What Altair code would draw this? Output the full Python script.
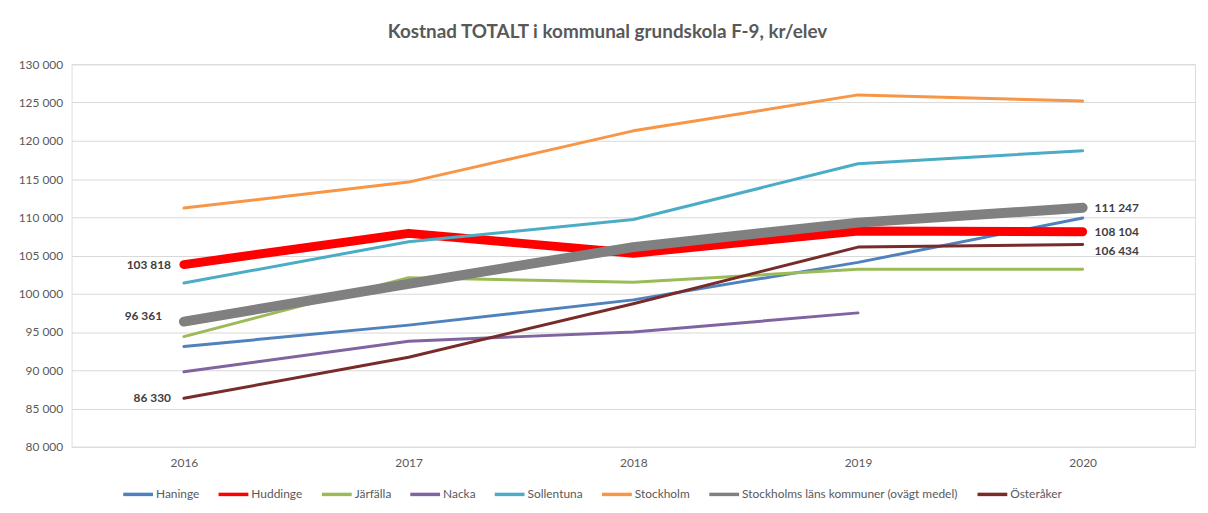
import altair as alt
import pandas as pd

years = ["2016", "2017", "2018", "2019", "2020"]
series = ["Haninge", "Huddinge", "Järfälla", "Nacka", "Sollentuna", "Stockholm",
          "Stockholms läns kommuner (ovägt medel)", "Österåker"]
colors = ["#4F81BD", "#FF0000", "#9BBB59", "#8064A2", "#4BACC6", "#F79646", "#808080", "#772C2A"]
widths = [3, 9, 3, 3, 3, 3, 10, 3]

haninge = [93100, 95900, 99200, 104100, 109900]
huddinge = [103818, 107900, 105300, 108200, 108104]
jarfalla = [94400, 102100, 101500, 103200, 103200]
nacka = [89800, 93800, 95000, 97500, None]
sollentuna = [101400, 106800, 109700, 117000, 118700]
stockholm = [111200, 114600, 121300, 126000, 125200]
lan = [96361, 101300, 106100, 109300, 111247]
osteraker = [86330, 91700, 98700, 106100, 106434]
values = [haninge, huddinge, jarfalla, nacka, sollentuna, stockholm, lan, osteraker]

# data labels: (series, year, group)
labels = [
    ("Huddinge", "2016", "left"), ("Stockholms läns kommuner (ovägt medel)", "2016", "left_up"),
    ("Österåker", "2016", "left"), ("Stockholms läns kommuner (ovägt medel)", "2020", "right"),
    ("Huddinge", "2020", "right"), ("Österåker", "2020", "right_down"),
]

rows = []
for i, (s, vals) in enumerate(zip(series, values)):
    for y, v in zip(years, vals):
        if v is not None:
            rows.append({"Series": s, "Year": y, "Value": v, "order": i, "w": widths[i]})
df = pd.DataFrame(rows)

lab_rows = []
for s, y, side in labels:
    v = values[series.index(s)][years.index(y)]
    lab_rows.append({"Series": s, "Year": y, "Value": v, "side": side})
ldf = pd.DataFrame(lab_rows)

FONT = "Lato"
GREY = "#595959"

x = alt.X("Year:O", scale=alt.Scale(type="point", padding=0.5, domain=years),
          axis=alt.Axis(title=None, labelAngle=0, ticks=False, domain=False, grid=False,
                        labelPadding=11, labelColor=GREY, labelFontSize=12, labelFont=FONT))
y = alt.Y("Value:Q", scale=alt.Scale(domain=[80000, 130000], nice=False, zero=False),
          axis=alt.Axis(title=None, values=list(range(80000, 130001, 5000)), ticks=False, domain=False,
                        gridColor="#D9D9D9", gridWidth=1, labelPadding=9, labelColor=GREY,
                        labelFontSize=12, labelFont=FONT,
                        labelExpr="replace(format(datum.value, ','), ',', ' ')"))

lines = alt.Chart(df).mark_line(strokeCap="round", strokeJoin="round").encode(
    x=x, y=y,
    color=alt.Color("Series:N", scale=alt.Scale(domain=series, range=colors),
                    legend=alt.Legend(title=None, orient="none", direction="horizontal", columns=8,
                                      legendX=50, legendY=416, symbolType="stroke", symbolSize=900,
                                      symbolStrokeWidth=3.5, labelFont=FONT, labelFontSize=12,
                                      labelColor=GREY, columnPadding=12, labelOffset=1, labelLimit=0)),
    strokeWidth=alt.StrokeWidth("w:Q", scale=None, legend=None),
    order=alt.Order("Year:O"),
    detail="order:O",
)

base_lab = alt.Chart(ldf).transform_calculate(
    lab="replace(format(datum.Value, ','), ',', ' ')"
)


def lab_layer(side, align, dx, dy):
    return base_lab.transform_filter(f"datum.side == '{side}'").mark_text(
        align=align, baseline="middle", dx=dx, dy=dy, fontWeight="bold", font=FONT,
        fontSize=12, color="#404040"
    ).encode(x=x, y=y, text="lab:N")


layers = [
    lab_layer("left", "right", -13, 0),
    lab_layer("left_up", "right", -22, -6),
    lab_layer("right", "left", 12, 0),
    lab_layer("right_down", "left", 12, 7),
]

chart = alt.layer(lines, *layers).properties(
    width=1131, height=385,
    title=alt.Title("Kostnad TOTALT i kommunal grundskola F-9, kr/elev", font=FONT, fontSize=19,
                    fontWeight="bold", color=GREY, anchor="middle", offset=16, dx=-26),
    autosize=alt.AutoSizeParams(type="none"),
    padding={"left": 64, "top": 55, "right": 5, "bottom": 60},
).configure_view(stroke=None).configure(background="white")

chart.save("out.html", embed_options={"renderer": "svg", "actions": False})
